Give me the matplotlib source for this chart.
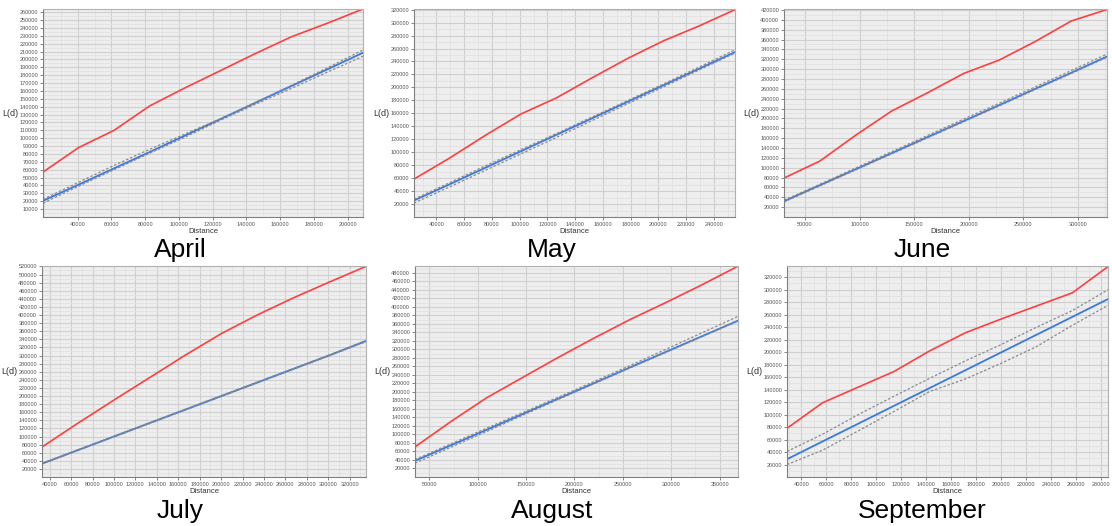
import numpy as np
import matplotlib
matplotlib.use('Agg')
import matplotlib.pyplot as plt
from matplotlib.ticker import MultipleLocator, FixedLocator

# L(d) function per month: observed, expected and the two envelope bounds
months = ['April', 'May', 'June', 'July', 'August', 'September']

april_dist = [19500, 40500, 61600, 82700, 103700, 124800, 145800, 166900, 188000, 209000]
april_obs = [57000, 88000, 110000, 141000, 164000, 186000, 208000, 229000, 246000, 264000]
april_exp = [20500, 41000, 61800, 82500, 103500, 124500, 145500, 166500, 187500, 208500]
april_hi = [22500, 44000, 65500, 86000, 105500, 125000, 146000, 167500, 189500, 212000]
april_lo = [17500, 39000, 60000, 81000, 101500, 123000, 143500, 163500, 184000, 204000]

may_dist = [23860, 49560, 75270, 100970, 126670, 152380, 178080, 203790, 229490, 255180]
may_obs = [58500, 91000, 126000, 159000, 184000, 215000, 245000, 272000, 295000, 320000]
may_exp = [25500, 50500, 76000, 101500, 127000, 152500, 178000, 203500, 229000, 254500]
may_hi = [27500, 53000, 79000, 104000, 129000, 154500, 180000, 205500, 231500, 258000]
may_lo = [21500, 46500, 72000, 97500, 123000, 149000, 175000, 201000, 227000, 253000]

june_dist = [30800, 63660, 96510, 129370, 162230, 195090, 227940, 260800, 293660, 326520]
june_obs = [79000, 113500, 166000, 215000, 252000, 291000, 318500, 356000, 397500, 421000]
june_exp = [32000, 64500, 97000, 129500, 162000, 194500, 227000, 260000, 292500, 325500]
june_hi = [34000, 66500, 99500, 132500, 165500, 198500, 231000, 264000, 297000, 330500]
june_lo = [30500, 63000, 95500, 128000, 160500, 193000, 225500, 258500, 291000, 324000]

july_dist = [32850, 66450, 100050, 133650, 167250, 200850, 234450, 268050, 301650, 335240]
july_obs = [74000, 133000, 190000, 246000, 302000, 355000, 401000, 443000, 482000, 520000]
july_exp = [33000, 66500, 100000, 133500, 167000, 200500, 234000, 267500, 301000, 336000]
july_hi = [34000, 67500, 101000, 134500, 168000, 201500, 235000, 268500, 302000, 337000]
july_lo = [32000, 65500, 99000, 132500, 166000, 199500, 233000, 266500, 300000, 334000]

august_dist = [35170, 72260, 109350, 146440, 183530, 220620, 257710, 294800, 331890, 368970]
august_obs = [70800, 130300, 186400, 234000, 281500, 327000, 370500, 410500, 452000, 495600]
august_exp = [38000, 74500, 111000, 148000, 184500, 221000, 258000, 294500, 331000, 367500]
august_hi = [41000, 78000, 115000, 151500, 188000, 225000, 262500, 300500, 339000, 377500]
august_lo = [32500, 70000, 107000, 145000, 182500, 219500, 256500, 293000, 330000, 366500]

september_dist = [28530, 57060, 85600, 114130, 142660, 171200, 199730, 228260, 256800, 285330]
september_obs = [78000, 119000, 144000, 169000, 202000, 231000, 253000, 274000, 295000, 337000]
september_exp = [28500, 57000, 85500, 114000, 142500, 171000, 199500, 228000, 256500, 285000]
september_hi = [41000, 68500, 100000, 129500, 158000, 186000, 212000, 240000, 266500, 300000]
september_lo = [20000, 43000, 74000, 105000, 137000, 157000, 182000, 209000, 243000, 275000]

# axis ticks per month
x_first = [40000, 40000, 50000, 40000, 50000, 40000]
x_steps = [20000, 20000, 50000, 20000, 50000, 20000]
y_steps = [10000, 20000, 20000, 20000, 20000, 20000]
y_tops = [264000, 321000, 422000, 521000, 496000, 338000]

series = [
    (april_dist, april_obs, april_exp, april_hi, april_lo),
    (may_dist, may_obs, may_exp, may_hi, may_lo),
    (june_dist, june_obs, june_exp, june_hi, june_lo),
    (july_dist, july_obs, july_exp, july_hi, july_lo),
    (august_dist, august_obs, august_exp, august_hi, august_lo),
    (september_dist, september_obs, september_exp, september_hi, september_lo),
]

W, H = 1112, 526
# panel boxes in pixels: left, top, right, bottom
boxes = [(43, 9, 363, 217), (414, 9, 735, 217), (784, 9, 1107, 217),
         (42, 266, 366, 477), (415, 266, 738, 477), (787, 266, 1108, 477)]
title_pos = [(180, 257), (552, 257), (922, 257), (180, 518), (552, 518), (922, 518)]

plt.rcParams['font.family'] = ['Liberation Sans', 'DejaVu Sans']

fig = plt.figure(figsize=(W / 100, H / 100), dpi=100, facecolor='w')

for i, (dist, obs, exp, hi, lo) in enumerate(series):
    l, t, r, b = boxes[i]
    ax = fig.add_axes([l / W, 1 - b / H, (r - l) / W, (b - t) / H], facecolor='#eeeeee')
    ax.set_axisbelow(True)

    # expected first, envelope dashes over it, observed on top
    ax.plot(dist, exp, color='#3a78e0', lw=1.3)
    ax.plot(dist, hi, color='#8a8a8a', lw=0.9, ls=(0, (2, 1.5)))
    ax.plot(dist, lo, color='#8a8a8a', lw=0.9, ls=(0, (2, 1.5)))
    ax.plot(dist, obs, color='#ff3f3f', lw=1.2)

    ax.set_xlim(dist[0], dist[-1])
    ax.set_ylim(0, y_tops[i])
    xs = x_steps[i]
    ys = y_steps[i]
    ax.xaxis.set_major_locator(FixedLocator(np.arange(x_first[i], dist[-1], xs)))
    ax.xaxis.set_minor_locator(MultipleLocator(xs / 2))
    ax.yaxis.set_major_locator(FixedLocator(np.arange(ys, y_tops[i] + 1, ys)))
    ax.yaxis.set_minor_locator(MultipleLocator(ys / 2))

    ax.grid(which='major', color='#cfcfcf', lw=0.8, ls='-')
    ax.grid(which='minor', color='#e2e2e2', lw=0.6, ls='-')
    ax.tick_params(which='major', labelsize=4, colors='#555555', length=2, width=0.5, pad=1.5)
    ax.tick_params(which='minor', length=0)
    ax.ticklabel_format(style='plain', useOffset=False)

    ax.set_xlabel('Distance', fontsize=5.5, color='#333333', labelpad=1)
    ax.set_ylabel('L(d)', fontsize=6.5, color='#333333', rotation=0, labelpad=0.5, va='center', ha='right')

    for spine in ('top', 'right'):
        ax.spines[spine].set_color('#b0b0b0')
    for spine in ('left', 'bottom'):
        ax.spines[spine].set_color('#808080')
    for spine in ax.spines.values():
        spine.set_linewidth(0.8)

    tx, ty = title_pos[i]
    fig.text(tx / W, 1 - ty / H, months[i], fontsize=19, ha='center', va='baseline', color='black')

plt.savefig('out.png', dpi=100, facecolor='w')
